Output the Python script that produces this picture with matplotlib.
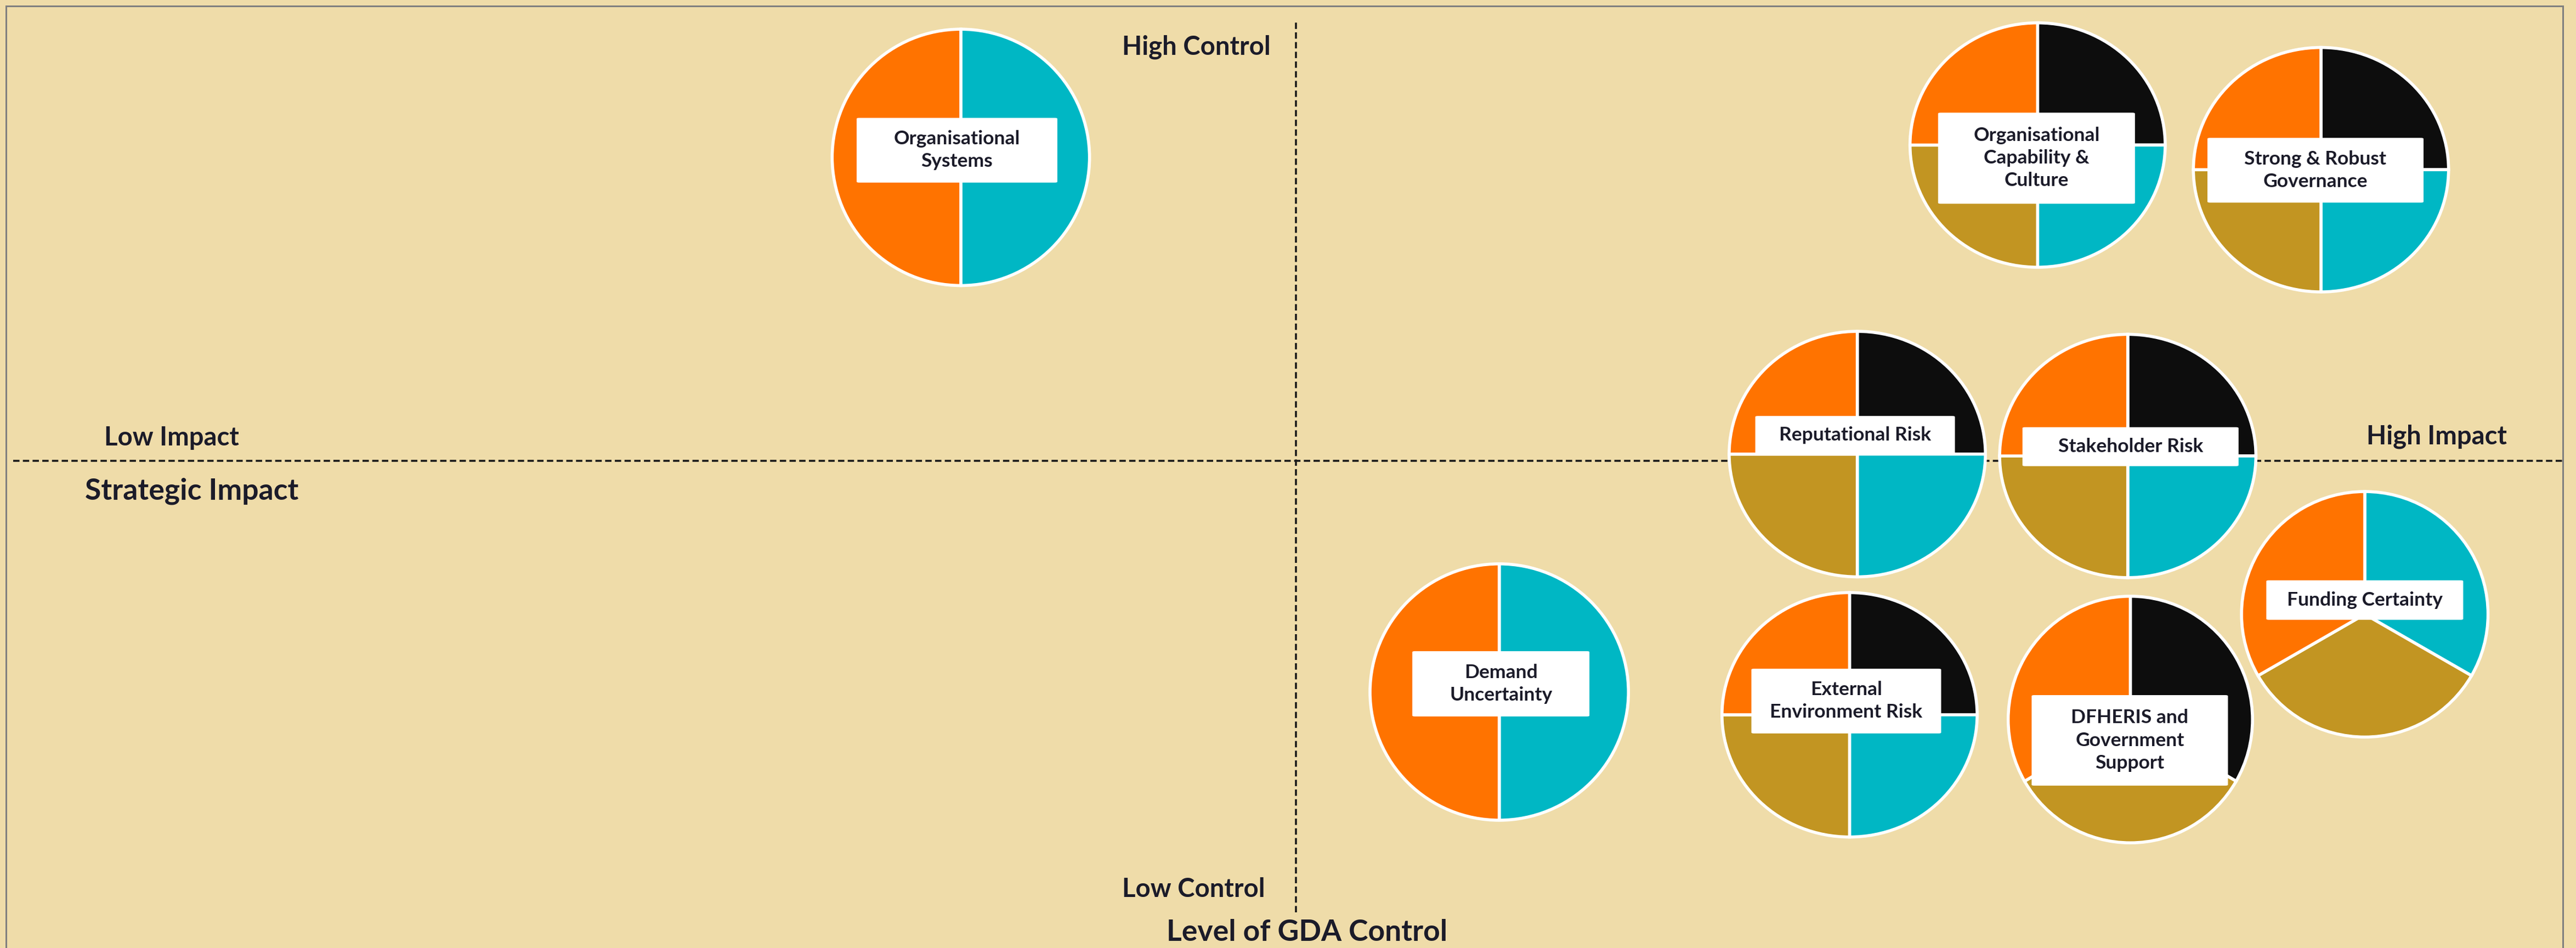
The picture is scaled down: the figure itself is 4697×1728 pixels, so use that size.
import matplotlib
matplotlib.use("Agg")
import numpy as np
import matplotlib.pyplot as plt
from matplotlib.patches import FancyBboxPatch, Rectangle

# risks placed on a strategic impact (x) / level of GDA control (y) grid, 0-10, cross at 5
risks = ["Organisational\nSystems", "Organisational\nCapability &\nCulture",
         "Strong & Robust\nGovernance", "Reputational Risk", "Stakeholder Risk",
         "Funding Certainty", "External\nEnvironment Risk",
         "DFHERIS and\nGovernment\nSupport", "Demand\nUncertainty"]
impact = [3.70, 7.88, 8.98, 7.18, 8.23, 9.15, 7.15, 8.24, 5.79]
control = [8.20, 8.33, 8.07, 5.07, 5.05, 3.38, 2.32, 2.27, 2.56]

# slice shares, clockwise from 12 o'clock: black, teal, gold, orange
black_share = [0, 1, 1, 1, 1, 0, 1, 1, 0]
teal_share = [1, 1, 1, 1, 1, 1, 1, 0, 1]
gold_share = [0, 1, 1, 1, 1, 1, 1, 1, 0]
orange_share = [1, 1, 1, 1, 1, 1, 1, 1, 1]
slice_colours = ["#0D0D0D", "#00B7C4", "#C29522", "#FF7300"]

# layout, in pixels
pie_radius = [(237, 236), (235, 225), (235, 225), (236, 226), (236, 224),
              (227, 226), (235, 225), (225, 227), (238, 236)]
box_size = [(366, 118), (359, 166), (394, 118), (364, 69), (394, 71),
            (359, 72), (346, 118), (358, 165), (323, 119)]
box_offset = [(-7, 13), (-2, -24), (-10, -1), (-4, 35), (5, 17),
              (0, 26), (-6, 25), (-1, -38), (3, 15)]

W, H = 4697, 1728
bg = "#EFDCA9"
ink = "#1B1B29"

plt.rcParams["font.family"] = ["Lato", "DejaVu Sans"]

fig = plt.figure(figsize=(W / 100, H / 100), dpi=100, facecolor=bg)
ax = fig.add_axes([0, 0, 1, 1])
ax.set_xlim(-0.03, 9.97)
ax.set_ylim(-0.14, 9.86)
ax.axis("off")

# frame (bottom edge runs off the picture)
fig.add_artist(Rectangle((11 / W, -20 / H), (4673 - 11) / W, (H - 11 + 20) / H,
                         transform=fig.transFigure, fill=False,
                         edgecolor="#7F7F7F", lw=2.2, zorder=1))

# quadrant dividers
ax.plot([0.021, 9.919], [5, 5], color="#1A1A1A", lw=2.6, ls=(0, (3.2, 1.7)))
ax.plot([5, 5], [0.236, 9.646], color="#1A1A1A", lw=2.6, ls=(0, (3.2, 1.7)))

def ftext(x, y, s, size=34):
    fig.text(x / W, 1 - y / H, s, ha="center", va="baseline", color=ink,
             fontsize=size, fontweight="bold")

ftext(2181, 100, "High Control")
ftext(2176, 1635, "Low Control")
ftext(2383, 1715, "Level of GDA Control", 38.5)
ftext(313, 812, "Low Impact")
ftext(350, 911, "Strategic Impact", 38.5)
ftext(4443, 809, "High Impact")

shares = np.array([black_share, teal_share, gold_share, orange_share]).T

for i, name in enumerate(risks):
    cx, cy = ax.transData.transform((impact[i], control[i]))
    rx, ry = pie_radius[i]
    pax = fig.add_axes([(cx - rx) / W, (cy - ry) / H, 2 * rx / W, 2 * ry / H], zorder=2)
    keep = shares[i] > 0
    pax.pie(shares[i][keep], colors=np.array(slice_colours)[keep], startangle=90,
            counterclock=False, radius=0.99,
            wedgeprops=dict(edgecolor="white", linewidth=4))
    pax.set_aspect("auto")
    pax.set_xlim(-1, 1)
    pax.set_ylim(-1, 1)
    pax.axis("off")

    bw, bh = box_size[i]
    dx, dy = box_offset[i]
    bx, by = cx + dx, cy + dy
    fig.add_artist(FancyBboxPatch(((bx - bw / 2) / W, (by - bh / 2) / H), bw / W, bh / H,
                                  boxstyle="round,pad=0,rounding_size=0.001",
                                  transform=fig.transFigure, facecolor="white",
                                  edgecolor="none", zorder=5))
    fig.text(bx / W, by / H, name, ha="center", va="center", color=ink,
             fontsize=25.5, fontweight="bold", linespacing=1.35, zorder=6)

fig.savefig("out.png", dpi=100, facecolor=bg)
